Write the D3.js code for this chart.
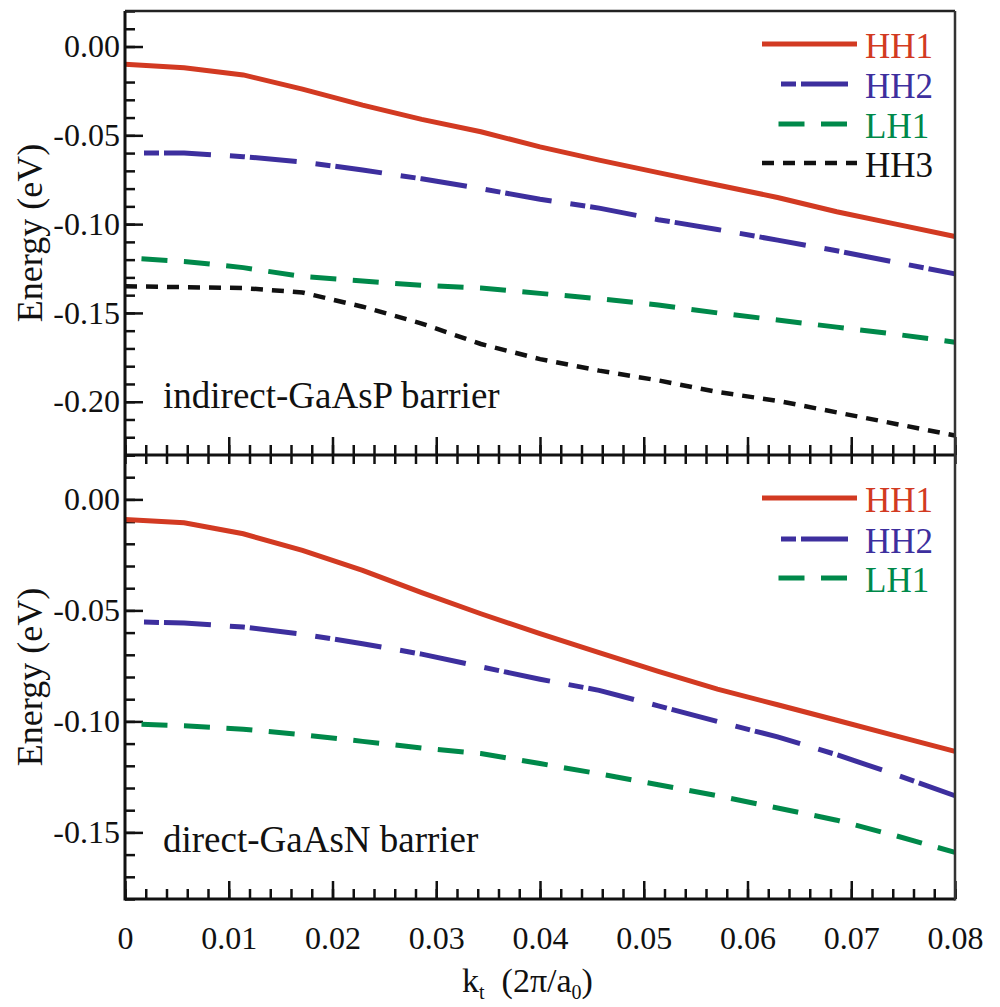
<!DOCTYPE html>
<html>
<head>
<meta charset="utf-8">
<script src="https://cdn.jsdelivr.net/npm/d3@7"></script>
<style>
  body { margin: 0; background: #fff; }
  svg { display: block; }
  text { font-family: "Liberation Serif", "Times New Roman", serif; fill: #111; }
</style>
</head>
<body>
<div id="chart"></div>
<script>
// k_t sample points (2pi/a0)
const kt = [0, 0.0057, 0.0114, 0.0171, 0.0229, 0.0286, 0.0343, 0.04,
            0.0457, 0.0514, 0.0571, 0.0629, 0.0686, 0.0743, 0.08];

// indirect-GaAsP barrier (eV)
const topHH1 = [-0.010, -0.012, -0.016, -0.024, -0.033, -0.041, -0.048, -0.0565,
                -0.064, -0.071, -0.078, -0.085, -0.093, -0.100, -0.107];
const topHH2 = [-0.060, -0.060, -0.062, -0.065, -0.0695, -0.0745, -0.080, -0.086,
                -0.091, -0.0975, -0.103, -0.109, -0.115, -0.1215, -0.128];
const topLH1 = [-0.119, -0.121, -0.1245, -0.1295, -0.132, -0.1345, -0.136, -0.139,
                -0.142, -0.1455, -0.150, -0.154, -0.158, -0.162, -0.1665];
const topHH3 = [-0.135, -0.1355, -0.136, -0.1385, -0.1465, -0.156, -0.1675, -0.176,
                -0.1825, -0.188, -0.1945, -0.1995, -0.206, -0.2125, -0.219];

// direct-GaAsN barrier (eV)
const botHH1 = [-0.009, -0.0105, -0.0155, -0.023, -0.032, -0.042, -0.0515, -0.0605,
                -0.069, -0.0775, -0.0855, -0.0925, -0.0995, -0.1065, -0.1135];
const botHH2 = [-0.055, -0.0557, -0.0575, -0.0607, -0.065, -0.0697, -0.0754, -0.081,
                -0.086, -0.093, -0.100, -0.107, -0.115, -0.124, -0.1335];
const botLH1 = [-0.101, -0.102, -0.1035, -0.106, -0.109, -0.112, -0.1145, -0.119,
                -0.1236, -0.1285, -0.1335, -0.139, -0.1445, -0.1515, -0.159];

// ticks
const xTicks = [0, 0.01, 0.02, 0.03, 0.04, 0.05, 0.06, 0.07, 0.08];
const xTickLabels = ["0", "0.01", "0.02", "0.03", "0.04", "0.05", "0.06", "0.07", "0.08"];
const topYTicks = [0, -0.05, -0.10, -0.15, -0.20];
const topYTickLabels = ["0.00", "-0.05", "-0.10", "-0.15", "-0.20"];
const botYTicks = [0, -0.05, -0.10, -0.15];
const botYTickLabels = ["0.00", "-0.05", "-0.10", "-0.15"];

const styles = {
  HH1: { color: "#d23a22", dash: null, offset: 0, width: 5 },
  HH2: { color: "#3d2f9e", dash: "15 5 47 19", offset: 67, width: 5 },
  LH1: { color: "#00894a", dash: "26 16.5", offset: 26, width: 5 },
  HH3: { color: "#111111", dash: "12 9", offset: 0, width: 4.5 }
};

const width = 1000, height = 1007;
const left = 125, right = 955;
const serif = "'Liberation Serif', 'Times New Roman', serif";

const svg = d3.select("#chart").append("svg")
  .attr("width", width)
  .attr("height", height);

const x = d3.scaleLinear().domain([0, 0.08]).range([left, right]);
const xMinor = d3.range(0, 0.0801, 0.002);

const panels = [
  {
    top: 11, bottom: 455, domain: [-0.23, 0.02],
    ticks: topYTicks, labels: topYTickLabels,
    series: [["HH1", topHH1], ["HH2", topHH2], ["LH1", topLH1], ["HH3", topHH3]],
    note: "indirect-GaAsP barrier", noteY: 408,
    legendY: [44, 84, 124, 163]
  },
  {
    top: 455, bottom: 899, domain: [-0.18, 0.02],
    ticks: botYTicks, labels: botYTickLabels,
    series: [["HH1", botHH1], ["HH2", botHH2], ["LH1", botLH1]],
    note: "direct-GaAsN barrier", noteY: 852,
    legendY: [498, 539, 578]
  }
];

panels.forEach((p, pi) => {
  const y = d3.scaleLinear().domain(p.domain).range([p.bottom, p.top]);
  const yMinor = d3.range(Math.round(p.domain[0] * 100), Math.round(p.domain[1] * 100) + 1)
    .map(v => v / 100);

  // y axis, minor + major, ticks pointing inward
  svg.append("g")
    .attr("class", "y-minor")
    .attr("transform", `translate(${left},0)`)
    .call(d3.axisLeft(y).tickValues(yMinor).tickSize(-10).tickFormat(""));

  svg.append("g")
    .attr("class", "y-axis")
    .attr("transform", `translate(${left},0)`)
    .call(d3.axisLeft(y).tickValues(p.ticks).tickSize(-18).tickPadding(5)
      .tickFormat((d, i) => p.labels[i]));

  // x axis along the bottom edge of the panel
  svg.append("g")
    .attr("class", "x-minor")
    .attr("transform", `translate(0,${p.bottom})`)
    .call(d3.axisBottom(x).tickValues(xMinor).tickSize(-10).tickFormat(""));

  svg.append("g")
    .attr("class", "x-axis")
    .attr("transform", `translate(0,${p.bottom})`)
    .call(d3.axisBottom(x).tickValues(xTicks).tickSize(-18).tickPadding(27)
      .tickFormat((d, i) => pi === 1 ? xTickLabels[i] : ""));

  // bottom panel also has ticks on the shared edge, pointing down
  if (pi === 1) {
    svg.append("g")
      .attr("class", "x-minor-top")
      .attr("transform", `translate(0,${p.top})`)
      .call(d3.axisTop(x).tickValues(xMinor).tickSize(-9).tickFormat(""));
  }

  const line = d3.line()
    .x(d => x(d[0]))
    .y(d => y(d[1]));

  p.series.forEach(([name, vals]) => {
    const s = styles[name];
    svg.append("path")
      .datum(kt.map((k, i) => [k, vals[i]]))
      .attr("fill", "none")
      .attr("stroke", s.color)
      .attr("stroke-width", s.width)
      .attr("stroke-dasharray", s.dash)
      .attr("stroke-dashoffset", s.offset)
      .attr("d", line);
  });

  // legend
  p.series.forEach(([name], i) => {
    const s = styles[name];
    const ly = p.legendY[i];
    svg.append("line")
      .attr("x1", 762).attr("x2", 857)
      .attr("y1", ly).attr("y2", ly)
      .attr("stroke", s.color)
      .attr("stroke-width", s.width)
      .attr("stroke-dasharray", s.dash)
      .attr("stroke-dashoffset", s.offset);
    svg.append("text")
      .attr("x", 865)
      .attr("y", ly + 14)
      .style("font-size", "35px")
      .style("fill", s.color)
      .text(name);
  });

  svg.append("text")
    .attr("x", 163)
    .attr("y", p.noteY)
    .style("font-size", "37px")
    .text(p.note);

  svg.append("text")
    .attr("transform", `translate(42,${(p.top + p.bottom) / 2}) rotate(-90)`)
    .attr("text-anchor", "middle")
    .style("font-size", "36px")
    .text("Energy (eV)");
});

svg.selectAll(".domain").remove();
svg.selectAll(".tick line").attr("stroke", "#111").attr("stroke-width", 2.5);
svg.selectAll(".y-axis text, .x-axis text")
  .style("font-size", "32px")
  .style("font-family", serif)
  .attr("fill", "#111");

// frame
svg.append("line").attr("x1", left).attr("x2", left).attr("y1", 11).attr("y2", 900.5)
  .attr("stroke", "#111").attr("stroke-width", 3);
svg.append("line").attr("x1", left).attr("x2", right).attr("y1", 899).attr("y2", 899)
  .attr("stroke", "#111").attr("stroke-width", 3);
svg.append("line").attr("x1", left).attr("x2", right).attr("y1", 455).attr("y2", 455)
  .attr("stroke", "#111").attr("stroke-width", 3);
svg.append("line").attr("x1", left).attr("x2", right).attr("y1", 11).attr("y2", 11)
  .attr("stroke", "#222").attr("stroke-width", 2.5);
svg.append("line").attr("x1", right).attr("x2", right).attr("y1", 11).attr("y2", 900.5)
  .attr("stroke", "#333").attr("stroke-width", 2.5);

// x axis title: k_t (2pi/a_0)
const xt = svg.append("text")
  .attr("x", 462)
  .attr("y", 992)
  .style("font-size", "34px");
xt.append("tspan").text("k");
xt.append("tspan").attr("dy", 7).style("font-size", "20px").text("t");
xt.append("tspan").attr("dy", -7).text("\u00a0\u00a0(2\u03c0/a");
xt.append("tspan").attr("dy", 7).style("font-size", "20px").text("0");
xt.append("tspan").attr("dy", -7).text(")");
</script>
</body>
</html>
